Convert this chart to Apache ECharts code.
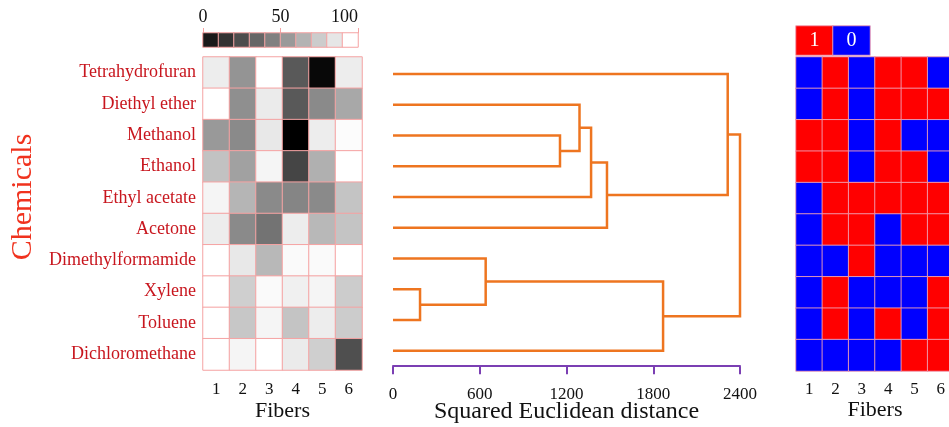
<!DOCTYPE html>
<html>
<head>
<meta charset="utf-8">
<title>Chemicals / fibers</title>
<script src="https://cdn.jsdelivr.net/npm/echarts@6/dist/echarts.min.js"></script>
<style>
  html, body { margin: 0; padding: 0; background: #fff; }
  #chart { width: 949px; height: 427px; }
</style>
</head>
<body>
<div id="chart"></div>
<script>
// row / column labels
const chemicals = ['Tetrahydrofuran', 'Diethyl ether', 'Methanol', 'Ethanol', 'Ethyl acetate',
  'Acetone', 'Dimethylformamide', 'Xylene', 'Toluene', 'Dichloromethane'];
const fibers = ['1', '2', '3', '4', '5', '6'];

// grey heat map, 0 = black, 100 = white
const greyValues = [
  [93, 58, 100, 35, 3, 93],
  [100, 56, 92, 35, 54, 66],
  [60, 54, 91, 0, 93, 99],
  [76, 63, 96, 27, 69, 100],
  [96, 71, 54, 52, 54, 77],
  [93, 54, 45, 93, 72, 77],
  [100, 91, 72, 98, 98, 100],
  [100, 81, 98, 94, 96, 80],
  [100, 78, 96, 77, 93, 80],
  [100, 96, 100, 92, 81, 31],
];
const greySteps = [10, 20, 30, 40, 50, 60, 70, 80, 90, 100];
const greyTicks = [0, 50, 100];

// binary map, 1 = red, 0 = blue
const binaryValues = [
  [0, 1, 0, 1, 1, 0],
  [0, 1, 0, 1, 1, 1],
  [1, 1, 0, 1, 0, 0],
  [1, 1, 0, 1, 1, 0],
  [0, 1, 1, 1, 1, 1],
  [0, 1, 1, 0, 1, 1],
  [0, 0, 1, 0, 0, 0],
  [0, 1, 0, 0, 0, 1],
  [0, 1, 0, 1, 0, 1],
  [0, 0, 0, 0, 1, 1],
];
const binaryKeys = [1, 0];

// dendrogram: [clusterA, clusterB, distance]; new clusters get ids 10, 11, ...
const merges = [
  [2, 3, 1155],
  [1, 10, 1290],
  [11, 4, 1370],
  [12, 5, 1480],
  [0, 13, 2315],
  [7, 8, 187],
  [6, 15, 641],
  [16, 9, 1868],
  [14, 17, 2400],
];
const distanceTicks = [0, 600, 1200, 1800, 2400];

const FONT = 'Liberation Serif';
const PINK = '#f5a3a3';

function toCells(rows) {
  const out = [];
  rows.forEach((row, r) => row.forEach((v, c) => out.push([c, r, v])));
  return out;
}

// 树状图的连线
const nodeY = chemicals.map((_, i) => i);
const nodeH = chemicals.map(() => 0);
const dendroLines = [];
merges.forEach(([a, b, h]) => {
  dendroLines.push({
    coords: [[nodeH[a], nodeY[a]], [h, nodeY[a]], [h, nodeY[b]], [nodeH[b], nodeY[b]]],
  });
  nodeY.push((nodeY[a] + nodeY[b]) / 2);
  nodeH.push(h);
});

const chart = echarts.init(document.getElementById('chart'));

const option = {
  animation: false,
  textStyle: { fontFamily: FONT },
  grid: [
    { left: 203, top: 33, width: 155, height: 14, outerBoundsMode: 'none' },   // grey scale bar
    { left: 203, top: 57, width: 159, height: 313, outerBoundsMode: 'none' },  // grey heat map
    { left: 393, top: 58.6, width: 347, height: 307.6, outerBoundsMode: 'none' }, // dendrogram
    { left: 796, top: 26, width: 74, height: 29, outerBoundsMode: 'none' },    // 1/0 key
    { left: 796, top: 57, width: 158, height: 314, outerBoundsMode: 'none' },  // binary map
  ],
  xAxis: [
    { gridIndex: 0, type: 'category', data: greySteps, show: false },
    {
      gridIndex: 0, type: 'value', position: 'top', min: 0, max: 100, interval: 50,
      axisLine: { show: false },
      axisTick: { show: true, length: 5, lineStyle: { color: PINK } },
      splitLine: { show: false },
      axisLabel: {
        color: '#111', fontSize: 18, margin: 7, fontFamily: FONT,
        customValues: greyTicks, alignMaxLabel: 'right',
      },
    },
    {
      gridIndex: 1, type: 'category', data: fibers,
      axisLine: { show: false }, axisTick: { show: false },
      axisLabel: { color: '#111', fontSize: 17, margin: 11, fontFamily: FONT },
      name: 'Fibers', nameLocation: 'middle', nameGap: 30, nameMoveOverlap: false,
      nameTextStyle: { color: '#111', fontSize: 22, fontFamily: FONT },
    },
    {
      gridIndex: 2, type: 'value', min: 0, max: 2400, interval: 600,
      axisLine: { show: true, onZero: false, lineStyle: { color: '#7b3fb3', width: 2 } },
      axisTick: { show: true, length: 8, lineStyle: { color: '#7b3fb3', width: 2 } },
      splitLine: { show: false },
      axisLabel: {
        color: '#111', fontSize: 17, margin: 20, fontFamily: FONT,
        formatter: (v) => String(v),
      },
      name: 'Squared Euclidean distance', nameLocation: 'middle', nameGap: 34,
      nameMoveOverlap: false,
      nameTextStyle: { color: '#111', fontSize: 24, fontFamily: FONT },
    },
    { gridIndex: 3, type: 'category', data: binaryKeys, show: false },
    {
      gridIndex: 4, type: 'category', data: fibers,
      axisLine: { show: false }, axisTick: { show: false },
      axisLabel: { color: '#111', fontSize: 17, margin: 10, fontFamily: FONT },
      name: 'Fibers', nameLocation: 'middle', nameGap: 28, nameMoveOverlap: false,
      nameTextStyle: { color: '#111', fontSize: 22, fontFamily: FONT },
    },
  ],
  yAxis: [
    { gridIndex: 0, type: 'category', data: ['scale'], show: false },
    {
      gridIndex: 1, type: 'category', data: chemicals, inverse: true,
      axisLine: { show: false }, axisTick: { show: false },
      axisLabel: { color: '#c8161e', fontSize: 18, margin: 7, fontFamily: FONT },
    },
    { gridIndex: 2, type: 'value', min: -0.5, max: 9.5, inverse: true, show: false },
    { gridIndex: 3, type: 'category', data: ['key'], show: false },
    { gridIndex: 4, type: 'category', data: chemicals, inverse: true, show: false },
  ],
  visualMap: [
    {
      type: 'continuous', show: false, min: 0, max: 100, seriesIndex: [0, 1],
      inRange: { color: ['#000000', '#ffffff'] },
    },
    {
      type: 'piecewise', show: false, seriesIndex: [3, 4],
      pieces: [{ value: 1, color: '#ff0000' }, { value: 0, color: '#0000ff' }],
    },
  ],
  series: [
    {
      type: 'heatmap', xAxisIndex: 0, yAxisIndex: 0, silent: true,
      data: greySteps.map((v, i) => [i, 0, v]),
      itemStyle: { borderColor: PINK, borderWidth: 1 },
    },
    {
      type: 'heatmap', xAxisIndex: 2, yAxisIndex: 1, silent: true,
      data: toCells(greyValues),
      itemStyle: { borderColor: PINK, borderWidth: 1 },
    },
    {
      type: 'lines', coordinateSystem: 'cartesian2d', xAxisIndex: 3, yAxisIndex: 2,
      polyline: true, silent: true,
      lineStyle: { color: '#ee7520', width: 2.5, opacity: 1 },
      data: dendroLines,
    },
    {
      type: 'heatmap', xAxisIndex: 4, yAxisIndex: 3, silent: true,
      data: binaryKeys.map((k, i) => [i, 0, k]),
      itemStyle: { borderColor: 'rgba(240,160,180,0.9)', borderWidth: 1 },
      label: {
        show: true, color: '#fff', fontSize: 20, fontFamily: FONT,
        formatter: (p) => String(p.value[2]),
      },
    },
    {
      type: 'heatmap', xAxisIndex: 5, yAxisIndex: 4, silent: true,
      data: toCells(binaryValues),
      itemStyle: { borderColor: 'rgba(240,160,180,0.9)', borderWidth: 1 },
    },
  ],
  graphic: [
    {
      type: 'text', x: 23, y: 197, rotation: Math.PI / 2,
      style: {
        text: 'Chemicals', fill: '#f0321e', font: '30px "Liberation Serif"',
        textAlign: 'center', textVerticalAlign: 'middle',
      },
    },
  ],
};

chart.setOption(option);
</script>
</body>
</html>
